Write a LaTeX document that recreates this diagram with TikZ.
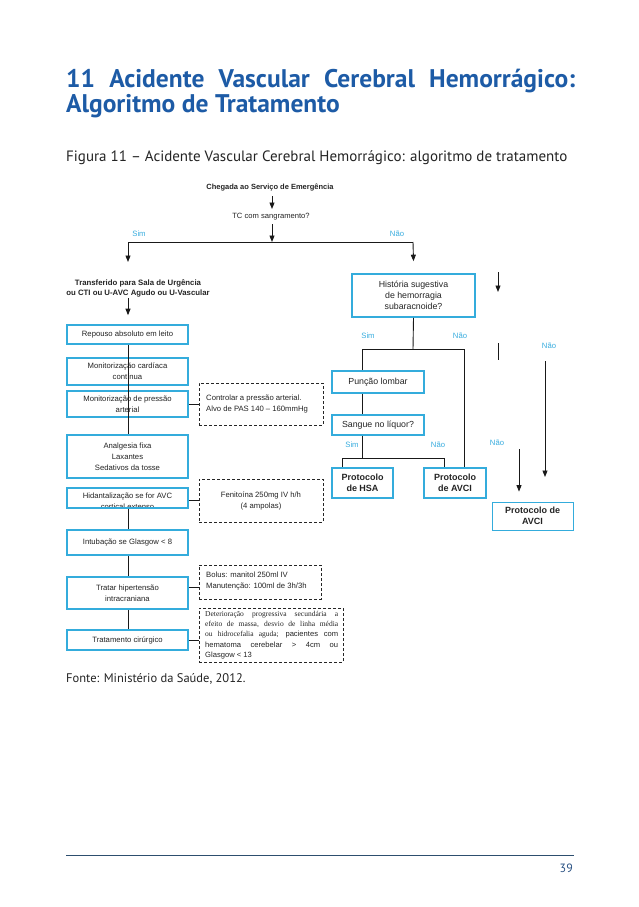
\documentclass[tikz,border=0pt]{standalone}
\usepackage{fontspec}
\setmainfont{PT Sans}
\newfontfamily\arial{Liberation Sans}
\newfontfamily\tnr{Liberation Serif}
\usetikzlibrary{arrows.meta}
\definecolor{titleblue}{RGB}{29,91,166}
\definecolor{cyanb}{RGB}{52,172,220}
\definecolor{lbl}{RGB}{55,172,222}
\definecolor{rulec}{RGB}{45,78,110}
\definecolor{txt}{RGB}{35,35,35}
\definecolor{pgnum}{RGB}{40,80,130}
\tikzset{
  fl/.style={font=\arial\fontsize{7.7}{11}\selectfont, text=txt},
  fr/.style={font=\arial\fontsize{8.8}{11}\selectfont, text=txt},
  frb/.style={font=\arial\bfseries\fontsize{9}{10.5}\selectfont, text=txt},
  cbox/.style={draw=cyanb, line width=1.6pt, inner sep=0pt, align=center},
  dbox/.style={draw=black!85, dash pattern=on 3pt off 2pt, line width=0.8pt, inner sep=0pt},
  arr/.style={-{Triangle[length=6.5pt,width=5pt]}, line width=0.9pt, draw=black!90},
  ln/.style={line width=0.9pt, draw=black!90},
  yn/.style={font=\arial\fontsize{7.7}{8}\selectfont, text=lbl, inner sep=0pt},
}
\begin{document}
\begin{tikzpicture}[x=1pt,y=-1pt]
\useasboundingbox (0,0) rectangle (638,907);
% title
\node[anchor=base west, inner sep=0pt, text=titleblue, font=\bfseries\fontsize{25.5}{28}\selectfont] (t1) at (66,88)
  {\makebox[509pt][s]{11 Acidente Vascular Cerebral Hemorrágico:}};
\node[anchor=base west, inner sep=0pt, text=titleblue, font=\bfseries\fontsize{25.5}{28}\selectfont] (t2) at (66,112)
  {Algoritmo de Tratamento};
\node[anchor=base west, inner sep=0pt, text=txt, font=\fontsize{15}{17}\selectfont] (cap) at (66,161)
  {Figura 11 – Acidente Vascular Cerebral Hemorrágico: algoritmo de tratamento};

% top
\node[inner sep=0pt, font=\arial\bfseries\fontsize{7.5}{9}\selectfont, text=txt] (cheg) at (270,187) {Chegada ao Serviço de Emergência};
\node[inner sep=0pt, font=\arial\fontsize{7.6}{9}\selectfont, text=txt] (tc0) at (271,217) {TC com sangramento?};
\coordinate (a1) at (272,196); \coordinate (a2) at (272,224);
\coordinate (j0) at (272,242); \coordinate (jl) at (128,242); \coordinate (jr) at (413,242);
\draw[arr] (a1) -- ([yshift=-13pt]a1);
\draw[arr] (a2) -- (j0);
\draw[ln] (jl) -- (jr);
\draw[arr] (jl) -- ([yshift=-20pt]jl);
\node[yn] (sim1) at (139,234) {Sim};
\node[yn] (nao1) at (397,234) {Não};

\node[inner sep=0pt, align=center, font=\arial\bfseries\fontsize{7.8}{10}\selectfont, text=txt] (transf) at (138,288)
  {Transferido para Sala de Urgência\\ou CTI ou U-AVC Agudo ou U-Vascular};
\coordinate (tb) at (128,298);

% left column
\node[cbox, fl, minimum width=121pt, minimum height=19pt] (rep) at (127.5,334.5) {Repouso absoluto em leito};
\node[cbox, fl, minimum width=121pt, minimum height=27pt] (mc) at (127.5,371.5) {Monitorização cardíaca\\contínua};
\node[cbox, fl, minimum width=121pt, minimum height=26pt] (mp) at (127.5,404) {Monitorização de pressão\\arterial};
\node[cbox, fl, minimum width=121pt, minimum height=43pt] (an) at (127.5,456.5) {Analgesia fixa\\Laxantes\\Sedativos da tosse};
\node[cbox, minimum width=121pt, minimum height=20pt] (hid) at (127.5,498) {};
\begin{scope}
\clip (67,489) rectangle (188,506.5);
\node[fl, align=center, inner sep=0pt] (hidt) at (127.5,501.5) {Hidantalização se for AVC\\cortical extenso};
\end{scope}
\node[cbox, fl, minimum width=121pt, minimum height=25pt] (int) at (127.5,542.5) {Intubação se Glasgow < 8};
\node[cbox, fl, minimum width=121pt, minimum height=32pt] (tr) at (127.5,593) {Tratar hipertensão\\intracraniana};
\node[cbox, fl, minimum width=121pt, minimum height=20pt] (tcir) at (127.5,640) {Tratamento cirúrgico};

\draw[arr] (tb) -- ([yshift=9pt]rep.north -| tb);
\draw[ln] (rep.south -| tb) -- (an.north -| tb);
\draw[ln] (hid.south -| tb) -- (int.north -| tb);
\draw[ln] (int.south -| tb) -- (tr.north -| tb);
\draw[ln] (tr.south -| tb) -- (tcir.north -| tb);

% dashed boxes
\node[dbox, minimum width=124pt, minimum height=42pt] (ctrl) at (261,404) {};
\node[fl, anchor=west, align=left, inner sep=0pt] (ctrlt) at (206,404) {Controlar a pressão arterial.\\Alvo de PAS 140 – 160mmHg};
\node[dbox, fl, align=center, minimum width=124pt, minimum height=43pt] (fen) at (261,500.5) {Fenitoína 250mg IV h/h\\(4 ampolas)};
\node[dbox, minimum width=122pt, minimum height=34pt] (bol) at (260,582) {};
\node[fl, anchor=west, align=left, inner sep=0pt] (bolt) at (206,581) {Bolus: manitol 250ml IV\\Manutenção: 100ml de 3h/3h};
\node[dbox, minimum width=144pt, minimum height=54pt] (det) at (271,635) {};
\node[anchor=north west, inner sep=0pt, text=txt] (dett) at (205,611) {\parbox{133pt}{\fontsize{7.5}{10.2}\selectfont
\makebox[133pt][s]{\tnr Deterioração progressiva secundária a}\\
\makebox[133pt][s]{\tnr efeito de massa, desvio de linha média}\\
\makebox[133pt][s]{\tnr ou hidrocefalia aguda; \arial\fontsize{7.6}{10.2}\selectfont pacientes com}\\
\makebox[133pt][s]{\arial\fontsize{7.6}{10.2}\selectfont hematoma cerebelar > 4cm ou}\\
{\arial\fontsize{7.6}{10.2}\selectfont Glasgow < 13}}};
\coordinate (b0) at (188,587);
\draw[ln] (mp.east) -- (ctrl.west);
\draw[ln] (hid.east |- fen.west) -- (fen.west);
\draw[ln] (tr.east |- b0) -- (bol.west |- b0);
\draw[ln] (tcir.east) -- (tcir.east -| det.west);

% right column
\node[cbox, fr, minimum width=123pt, minimum height=43pt] (hist) at (413.5,295.5) {História sugestiva\\de hemorragia\\subaracnoide?};
\draw[arr] (jr) -- ([yshift=12pt]hist.north);
\coordinate (k0) at (413,349); \coordinate (k1) at (362,349); \coordinate (k2) at (464,349);
\draw[ln] (hist.south) -- (k0);
\draw[ln] (k1) -- (k2);
\node[yn] (sim2) at (368,336) {Sim};
\node[yn] (nao2) at (460,336) {Não};
\node[cbox, fr, minimum width=92pt, minimum height=22pt] (pl) at (378,382) {Punção lombar};
\node[cbox, fr, minimum width=92pt, minimum height=20pt] (sl) at (378,425) {Sangue no líquor?};
\draw[ln] (k1) -- (k1 |- pl.north);
\draw[ln] (pl.south -| k1) -- (sl.north -| k1);
\coordinate (m0) at (362,458); \coordinate (m1) at (342,458); \coordinate (m2) at (444,458);
\draw[ln] (sl.south -| k1) -- (m0);
\draw[ln] (m1) -- (m2);
\node[yn] (sim3) at (352,445) {Sim};
\node[yn] (nao3) at (438,445) {Não};
\node[cbox, frb, minimum width=61pt, minimum height=30pt] (hsa) at (362.5,483) {Protocolo\\de HSA};
\node[cbox, frb, minimum width=62pt, minimum height=30pt] (avci1) at (455,483) {Protocolo\\de AVCI};
\draw[ln] (m1) -- (m1 |- hsa.north);
\draw[ln] (m2) -- (m2 |- avci1.north);
\draw[ln] (k2) -- (k2 |- avci1.north);

% far right
\node[draw=cyanb, line width=0.8pt, inner sep=0pt, align=center, frb, minimum width=81pt, minimum height=28pt] (avci2) at (532.5,516) {Protocolo de\\AVCI};
\coordinate (s1a) at (498,272); \coordinate (s1b) at (498,292);
\coordinate (s2a) at (498,343); \coordinate (s2b) at (498,360);
\coordinate (s3a) at (545,361); \coordinate (s3b) at (545,477);
\coordinate (s4a) at (519,449);
\draw[arr] (s1a) -- (s1b);
\draw[ln] (s2a) -- (s2b);
\draw[arr] (s3a) -- (s3b);
\draw[arr] (s4a) -- ([yshift=10pt]avci2.north -| s4a);
\node[yn] (nao4) at (549,346) {Não};
\node[yn] (nao5) at (497,443) {Não};

% footer
\node[anchor=base west, inner sep=0pt, text=txt, font=\fontsize{12.5}{15}\selectfont] (fonte) at (66,682) {Fonte: Ministério da Saúde, 2012.};
\coordinate (r1) at (66,855); \coordinate (r2) at (574,855);
\draw[rulec, line width=0.8pt] (r1) -- (r2);
\node[anchor=base east, inner sep=0pt, text=pgnum, font=\fontsize{12}{14}\selectfont] (pg) at (573,872) {39};
\end{tikzpicture}
\end{document}
